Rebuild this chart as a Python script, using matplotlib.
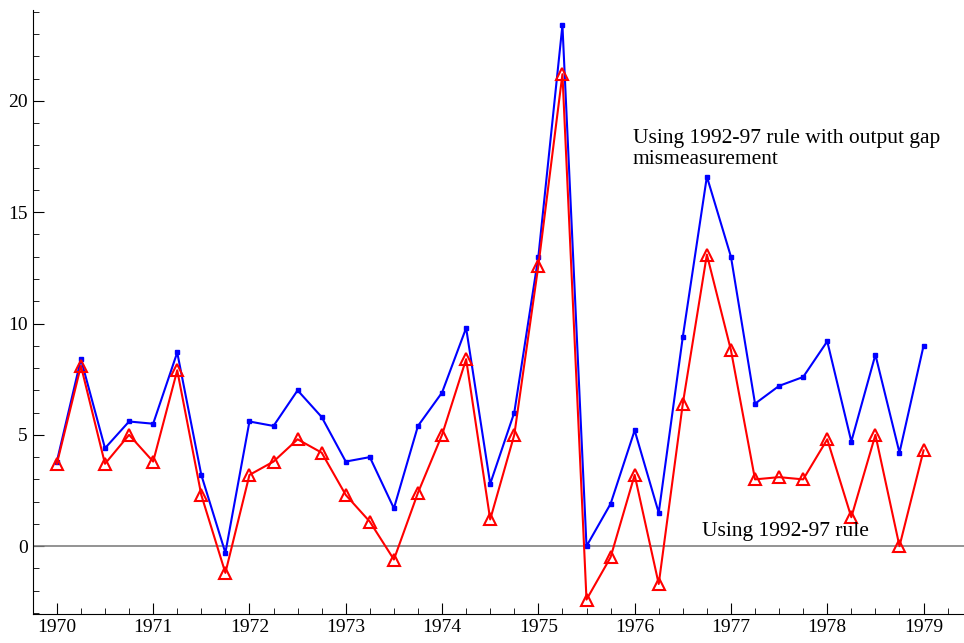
import matplotlib
matplotlib.use("Agg")
import matplotlib.pyplot as plt
from matplotlib.ticker import MultipleLocator
import numpy as np

plt.rcParams['font.family'] = ['Liberation Serif', 'DejaVu Serif']

dates = 1970 + 0.25*np.arange(37)
blue = [3.8,8.4,4.4,5.6, 5.5,8.7,3.2,-0.3, 5.6,5.4,7.0,5.8, 3.8,4.0,1.7,5.4,
        6.9,9.8,2.8,6.0, 13.0,23.4,0.0,1.9, 5.2,1.5,9.4,16.6, 13.0,6.4,7.2,7.6,
        9.2,4.7,8.6,4.2, 9.0]
red = [3.7,8.1,3.7,5.0, 3.8,7.9,2.3,-1.2, 3.2,3.8,4.8,4.2, 2.3,1.1,-0.6,2.4,
       5.0,8.4,1.2,5.0, 12.6,21.2,-2.4,-0.5, 3.2,-1.7,6.4,13.1, 8.8,3.0,3.1,3.0,
       4.8,1.3,5.0,0.0, 4.3]

fig = plt.figure(figsize=(9.64,6.43), dpi=100)
ax = fig.add_axes([0.034, 0.045, 0.966, 0.94])
ax.axhline(0, color='#808080', lw=1.2)
ax.plot(dates, blue, color='blue', lw=1.5, marker='s', ms=3.5)
ax.plot(dates, red, color='red', lw=1.5, marker='^', ms=9, mfc='none', mew=1.5)
ax.set_xlim(1969.75, 1979.42)
ax.set_ylim(-3.05, 24.1)
ax.set_xticks(range(1970,1980))
ax.xaxis.set_minor_locator(MultipleLocator(0.25))
ax.yaxis.set_major_locator(MultipleLocator(5))
ax.yaxis.set_minor_locator(MultipleLocator(1))
ax.tick_params(direction='in', labelsize=14, length=8)
ax.tick_params(which='minor', direction='in', length=4)
for s in ['top','right']:
    ax.spines[s].set_visible(False)
ax.text(1975.98, 16.95, "Using 1992-97 rule with output gap\nmismeasurement", fontsize=15.5, linespacing=1.1, va='bottom')
ax.text(1976.7, 0.45, "Using 1992-97 rule", fontsize=15.5)
fig.savefig("out.png")
